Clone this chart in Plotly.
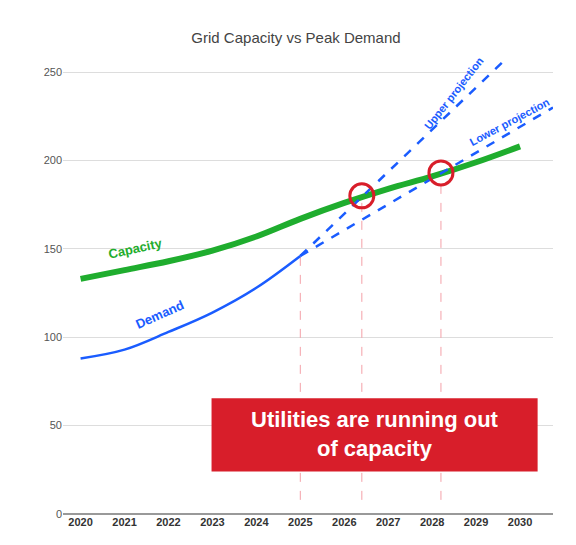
import plotly.graph_objects as go

years = [2020, 2021, 2022, 2023, 2024, 2025, 2026, 2027, 2028, 2029, 2030]
capacity = [133, 138, 143, 149, 157, 167, 176, 184, 191, 199, 208]
demand_years = [2020, 2021, 2022, 2023, 2024, 2025]
demand = [88, 93, 103, 114, 128, 146]
upper_x = [2025, 2029.7]
upper_y = [146, 258]
lower_x = [2025, 2030.75]
lower_y = [146, 230]
cross_x = [2026.4, 2028.2]
cross_y = [180, 193]

fig = go.Figure()

# dashed pink guides from the axis to each point
for xv, yv in zip([2025] + cross_x, [146] + cross_y):
    fig.add_trace(go.Scatter(x=[xv, xv], y=[8, yv], mode='lines',
                             line=dict(color='#f4a0a8', width=1, dash='dash'),
                             hoverinfo='skip'))

fig.add_trace(go.Scatter(x=years, y=capacity, mode='lines',
                         line=dict(color='#1fad2e', width=6, shape='spline')))
fig.add_trace(go.Scatter(x=demand_years, y=demand, mode='lines',
                         line=dict(color='#1a5cff', width=2.5, shape='spline')))
fig.add_trace(go.Scatter(x=upper_x, y=upper_y, mode='lines',
                         line=dict(color='#1a5cff', width=2.5, dash='dash')))
fig.add_trace(go.Scatter(x=lower_x, y=lower_y, mode='lines',
                         line=dict(color='#1a5cff', width=2.5, dash='dash')))
fig.add_trace(go.Scatter(x=cross_x, y=cross_y, mode='markers',
                         marker=dict(size=24, color='rgba(0,0,0,0)',
                                     line=dict(color='#d81e2a', width=3))))

labels = [
    (2021.25, 150, 'Capacity', '#1fad2e', -12),
    (2021.8, 113, 'Demand', '#1a5cff', -24),
    (2028.5, 238, 'Upper projection', '#1a5cff', -52),
    (2029.75, 222, 'Lower projection', '#1a5cff', -28),
]
for xv, yv, t, c, a in labels:
    fig.add_annotation(x=xv, y=yv, text='<b>%s</b>' % t, showarrow=False,
                       font=dict(color=c, size=13 if t in ('Capacity', 'Demand') else 11,
                                 family='Liberation Sans'), textangle=a)

fig.add_shape(type='rect', x0=2022.98, x1=2030.4, y0=24, y1=65.5,
              fillcolor='#d81e2a', line=dict(width=0), layer='above')
fig.add_annotation(x=2026.69, y=45, text='<b>Utilities are running out<br>of capacity</b>',
                   showarrow=False, font=dict(color='white', size=22, family='Liberation Sans'))

fig.update_layout(
    width=576, height=545, showlegend=False,
    margin=dict(l=55, r=31, t=50, b=39),
    plot_bgcolor='white', paper_bgcolor='white',
    title=dict(text='Grid Capacity vs Peak Demand', x=0.5, y=0.955,
               font=dict(size=15, color='#444', family='Liberation Sans')),
    xaxis=dict(range=[2019.6, 2030.75], tickvals=years, showgrid=False,
               automargin=False,
               tickfont=dict(size=11, color='#333', family='Liberation Sans', weight='bold'),
               showline=False, zeroline=False),
    yaxis=dict(range=[0, 258], tickvals=[0, 50, 100, 150, 200, 250],
               automargin=False,
               gridcolor='#dddddd', zeroline=True, zerolinecolor='#999',
               tickfont=dict(size=11, color='#555', family='Liberation Sans')),
)

fig.write_html("out.html")
